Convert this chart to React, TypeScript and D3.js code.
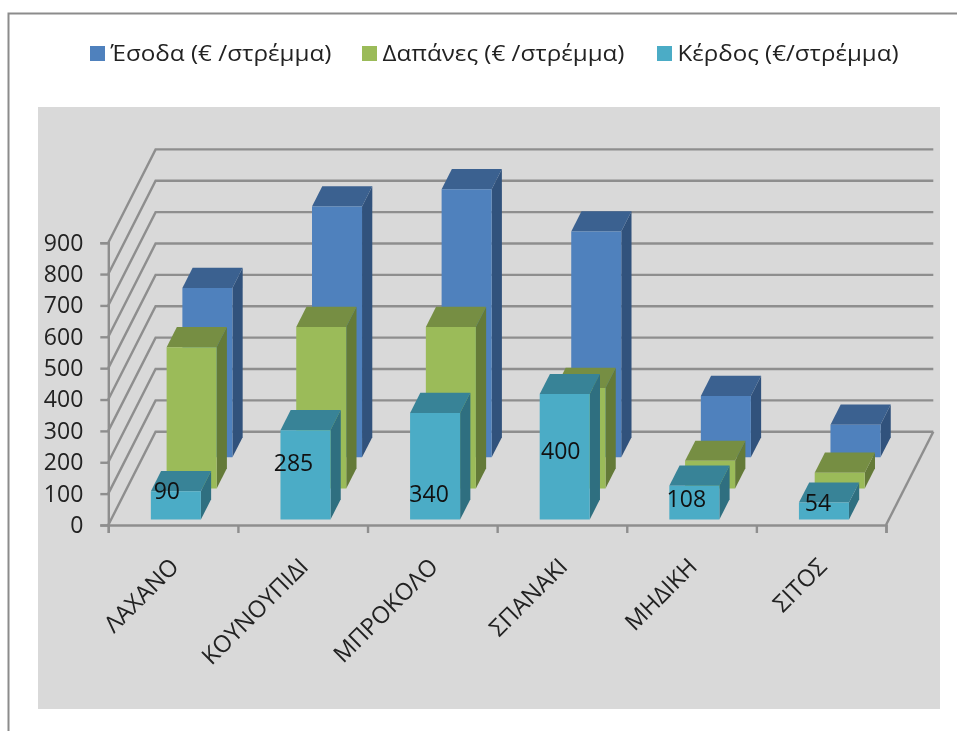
import { useEffect, useRef } from "react";
import * as d3 from "d3";

const categories = ["ΛΑΧΑΝΟ", "ΚΟΥΝΟΥΠΙΔΙ", "ΜΠΡΟΚΟΛΟ", "ΣΠΑΝΑΚΙ", "ΜΗΔΙΚΗ", "ΣΙΤΟΣ"];
const esoda = [540, 800, 855, 720, 196, 104];
const dapanes = [450, 515, 515, 320, 88, 50];
const kerdos = [90, 285, 340, 400, 108, 54];
const yTicks = [0, 100, 200, 300, 400, 500, 600, 700, 800, 900];
const legendLabels = ["Έσοδα (€ /στρέμμα)", "Δαπάνες (€ /στρέμμα)", "Κέρδος (€/στρέμμα)"];

// data labels were dragged by hand in the original, offset from top centre of the bar
const labelNudge = [
  [-9, -1],
  [-12, 32],
  [-6, 80],
  [-4, 56],
  [-8, 12],
  [-6, -1],
];

const seriesList = [
  { name: "kerdos", values: kerdos, front: "#4bacc6", top: "#388397", side: "#2f6f80" },
  { name: "dapanes", values: dapanes, front: "#9bbb59", top: "#768e43", side: "#647a38" },
  { name: "esoda", values: esoda, front: "#4f81bd", top: "#3b6190", side: "#31527c" },
];

const FONT = "'Open Sans', sans-serif";
const GRID = "#8e8e8e";

export default function App() {
  const width = 957;
  const height = 731;
  const svgRef = useRef<SVGSVGElement>(null);

  useEffect(() => {
    const svg = d3.select(svgRef.current);
    svg.selectAll("*").remove();

    // frame + plot background
    svg
      .append("path")
      .attr("d", "M8.5,731V13.5H957")
      .attr("fill", "none")
      .attr("stroke", "#8c8c8c")
      .attr("stroke-width", 2);
    svg
      .append("rect")
      .attr("x", 38)
      .attr("y", 107)
      .attr("width", 902)
      .attr("height", 602)
      .attr("fill", "#d9d9d9");

    const x0 = 108.3;
    const x1 = 886;
    const wallDx = 47.3;
    const wallDy = 93.3;

    const xIndex = d3.scaleLinear().domain([0, categories.length]).range([x0, x1]);
    const xBand = d3
      .scaleBand()
      .domain(categories)
      .range([x0, x1])
      .paddingInner(0.614)
      .paddingOuter(0.307);
    const y = d3.scaleLinear().domain([0, 900]).range([525, 242.7]);
    const depth = d3
      .scaleBand()
      .domain(seriesList.map((s) => s.name))
      .range([0, 1])
      .paddingInner(0.35)
      .paddingOuter(0.175);

    const line = d3.line();

    // walls
    const walls = svg.append("g").attr("fill", "none").attr("stroke", GRID).attr("stroke-width", 2.4);
    yTicks.forEach((t) => {
      walls
        .append("path")
        .attr(
          "d",
          line([
            [x0, y(t)],
            [x0 + wallDx, y(t) - wallDy],
            [x1 + wallDx, y(t) - wallDy],
          ])
        );
    });
    walls
      .append("path")
      .attr(
        "d",
        line([
          [x1, y(0)],
          [x1 + wallDx, y(0) - wallDy],
        ])
      );

    // axes
    const yAxis = svg
      .append("g")
      .attr("transform", `translate(${x0}, 0)`)
      .call(d3.axisLeft(y).tickValues(yTicks).tickSize(8).tickPadding(17));
    const xAxis = svg
      .append("g")
      .attr("transform", `translate(0, ${y(0)})`)
      .call(
        d3
          .axisBottom(xIndex)
          .ticks(categories.length)
          .tickSize(8)
          .tickFormat(() => "")
      );
    [yAxis, xAxis].forEach((a) => {
      a.selectAll("path, line").attr("stroke", GRID).attr("stroke-width", 2.4);
    });
    yAxis
      .selectAll("text")
      .attr("fill", "#222")
      .style("font-family", FONT)
      .style("font-size", "23px");

    // category labels
    svg
      .append("g")
      .selectAll("text")
      .data(categories)
      .join("text")
      .attr("transform", (d) => `translate(${xBand(d)! + xBand.bandwidth() / 2 + 7}, 568) rotate(-45)`)
      .attr("text-anchor", "end")
      .attr("fill", "#222")
      .style("font-family", FONT)
      .style("font-size", "23.5px")
      .text((d) => d);

    // bars, back row first
    const barW = xBand.bandwidth();
    const barD = depth.bandwidth();
    [...seriesList].reverse().forEach((s) => {
      const d0 = depth(s.name)!;
      const d1 = d0 + barD;
      const g = svg.append("g");
      categories.forEach((c, i) => {
        const left = xBand(c)!;
        const v = s.values[i];
        const px = (xp: number, v2: number, d: number): [number, number] => [
          xp + d * wallDx,
          y(v2) - d * wallDy,
        ];
        const r = left + barW;
        g.append("path")
          .attr("d", line([px(r, 0, d0), px(r, 0, d1), px(r, v, d1), px(r, v, d0)]) + "Z")
          .attr("fill", s.side);
        g.append("path")
          .attr("d", line([px(left, v, d0), px(r, v, d0), px(r, v, d1), px(left, v, d1)]) + "Z")
          .attr("fill", s.top);
        g.append("path")
          .attr("d", line([px(left, 0, d0), px(r, 0, d0), px(r, v, d0), px(left, v, d0)]) + "Z")
          .attr("fill", s.front);
      });
    });

    // data labels (Κέρδος only)
    const d0 = depth("kerdos")!;
    svg
      .append("g")
      .selectAll("text")
      .data(kerdos)
      .join("text")
      .attr("x", (_, i) => xBand(categories[i])! + barW / 2 + d0 * wallDx + labelNudge[i][0])
      .attr("y", (d, i) => y(d) - d0 * wallDy + labelNudge[i][1])
      .attr("text-anchor", "middle")
      .attr("dominant-baseline", "central")
      .attr("fill", "#111")
      .style("font-family", FONT)
      .style("font-size", "23px")
      .text((d) => d);

    // legend
    const legendX = d3.scaleOrdinal<number>().domain(legendLabels).range([90, 362, 657]);
    const legendColor = d3
      .scaleOrdinal<string>()
      .domain(legendLabels)
      .range([esoda, dapanes, kerdos].map((v) => seriesList.find((s) => s.values === v)!.front));
    const legendW = d3.scaleOrdinal<number>().domain(legendLabels).range([221, 242, 221]);
    const legend = svg
      .append("g")
      .selectAll("g")
      .data(legendLabels)
      .join("g")
      .attr("transform", (d) => `translate(${legendX(d)}, 46)`);
    legend
      .append("rect")
      .attr("width", 15)
      .attr("height", 15)
      .attr("fill", (d) => legendColor(d));
    legend
      .append("text")
      .attr("x", 20.5)
      .attr("y", 15)
      .attr("textLength", (d) => legendW(d))
      .attr("lengthAdjust", "spacingAndGlyphs")
      .attr("fill", "#222")
      .style("font-family", FONT)
      .style("font-size", "22.5px")
      .text((d) => d);
  }, []);

  return (
    <svg
      ref={svgRef}
      width={width}
      height={height}
      viewBox={`0 0 ${width} ${height}`}
      style={{ position: "absolute", left: 0, top: 0, background: "#fff", filter: "blur(0.5px)" }}
    />
  );
}
